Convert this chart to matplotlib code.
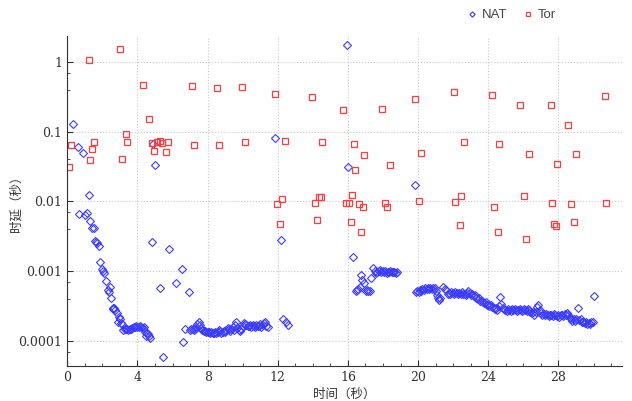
import matplotlib.pyplot as plt
from matplotlib.ticker import LogLocator, NullFormatter, MultipleLocator

# NAT delay samples (time s, delay s)
natTime = [0.31, 0.61, 0.69, 0.91, 1.03, 1.14, 1.22, 1.31, 1.43, 1.50, 1.60, 1.66, 1.71, 1.81, 1.88, 1.99,
           2.05, 2.11, 2.21, 2.32, 2.39, 2.43, 2.49, 2.58, 2.62, 2.68, 2.73, 2.83, 2.89, 2.95, 3.00, 3.08,
           3.13, 3.19, 3.28, 3.35, 3.42, 3.48, 3.55, 3.62, 3.70, 3.78, 3.85, 3.92, 4.00, 4.08, 4.15, 4.22,
           4.30, 4.38, 4.45, 4.50, 4.56, 4.62, 4.68, 4.73,
           4.83, 4.87, 5.02, 5.28, 5.44, 5.81, 6.21, 6.52, 6.61, 6.72, 6.92,
           7.00, 7.08, 7.14, 7.20, 7.28, 7.35, 7.42, 7.50, 7.56, 7.62, 7.70, 7.78, 7.85, 7.92, 8.00, 8.07,
           8.14, 8.20, 8.28, 8.35, 8.42, 8.50, 8.57, 8.64, 8.70, 8.78, 8.85, 8.92, 9.00, 9.07, 9.14, 9.20,
           9.28, 9.35, 9.42, 9.50, 9.57, 9.62, 9.70, 9.78, 9.85, 9.92, 10.00, 10.06, 10.13, 10.20, 10.28,
           10.35, 10.42, 10.50, 10.57, 10.64, 10.70, 10.78, 10.85, 10.92, 11.00, 11.07, 11.14, 11.20, 11.28,
           11.35, 11.42,
           11.83, 12.21, 12.31, 12.45, 12.56,
           15.94, 16.03, 16.30, 16.45, 16.52, 16.58, 16.68, 16.72, 16.79, 16.91, 17.04, 17.10, 17.15, 17.26,
           17.30, 17.44, 17.52, 17.59, 17.67, 17.75, 17.82, 17.90, 17.98, 18.05, 18.12, 18.20, 18.28, 18.35,
           18.42, 18.50, 18.57, 18.65, 18.72, 18.80,
           19.83, 19.87, 19.95, 20.03, 20.10, 20.18, 20.25, 20.32, 20.40, 20.48, 20.55, 20.63, 20.70, 20.78,
           20.86, 20.95, 21.02, 21.08, 21.14, 21.20, 21.26, 21.43, 21.52, 21.60, 21.68, 21.75, 21.82, 21.90,
           21.97, 22.05, 22.12, 22.20, 22.28, 22.35, 22.42, 22.50, 22.58, 22.65, 22.72, 22.80, 22.85, 22.95,
           23.02, 23.10, 23.18, 23.25, 23.32, 23.40, 23.47, 23.55, 23.62, 23.70, 23.78, 23.85, 23.92, 24.00,
           24.07, 24.15, 24.22, 24.30, 24.38, 24.45, 24.52, 24.60, 24.66, 24.75, 24.82, 24.90, 24.98, 25.05,
           25.12, 25.20, 25.28, 25.35, 25.42, 25.50, 25.58, 25.65, 25.72, 25.80, 25.88, 25.95, 26.02, 26.10,
           26.18, 26.25, 26.32, 26.40, 26.48, 26.55, 26.62, 26.70, 26.78, 26.86, 26.93, 27.00, 27.08, 27.15,
           27.22, 27.30, 27.38, 27.45, 27.52, 27.60, 27.68, 27.75, 27.82, 27.90, 27.98, 28.05, 28.12, 28.20,
           28.28, 28.35, 28.42, 28.50, 28.57, 28.65, 28.72, 28.80, 28.88, 28.95, 29.02, 29.12, 29.20, 29.28,
           29.35, 29.42, 29.50, 29.58, 29.65, 29.72, 29.80, 29.88, 29.97, 30.03]
natDelay = [0.127, 0.061, 0.0067, 0.049, 0.0063, 0.0069, 0.0122, 0.0052, 0.0041, 0.0041, 0.0027, 0.0026,
            0.0025, 0.0023, 0.00135, 0.00107, 0.0010, 0.00095, 0.00072, 0.00054, 0.0005, 0.00059, 0.00042,
            0.0003, 0.00029, 0.0003, 0.00028, 0.00025, 0.00019, 0.00022, 0.00021, 0.00018, 0.000178,
            0.000144, 0.00015, 0.000148, 0.00015, 0.000145, 0.000148, 0.00015, 0.000155, 0.00016, 0.000158,
            0.000162, 0.00016, 0.000158, 0.000162, 0.00016, 0.000155, 0.000158, 0.000135, 0.00012, 0.00013,
            0.000125, 0.000118, 0.00011,
            0.0026, 0.066, 0.033, 0.00058, 5.9e-5, 0.0021, 0.00068, 0.00107, 9.6e-5, 0.000151, 0.0005,
            1.45e-4, 1.5e-4, 1.47e-4, 1.42e-4, 1.5e-4, 1.6e-4, 1.75e-4, 1.86e-4, 1.7e-4, 1.55e-4, 1.45e-4,
            1.38e-4, 1.4e-4, 1.36e-4, 1.33e-4, 1.35e-4, 1.3e-4, 1.33e-4, 1.29e-4, 1.32e-4, 1.36e-4, 1.3e-4,
            1.34e-4, 1.45e-4, 1.38e-4, 1.32e-4, 1.35e-4, 1.4e-4, 1.36e-4, 1.45e-4, 1.55e-4, 1.48e-4, 1.4e-4,
            1.5e-4, 1.6e-4, 1.45e-4, 1.7e-4, 1.86e-4, 1.55e-4, 1.45e-4, 1.4e-4, 1.5e-4, 1.65e-4, 1.8e-4,
            1.78e-4, 1.7e-4, 1.65e-4, 1.62e-4, 1.68e-4, 1.6e-4, 1.7e-4, 1.65e-4, 1.6e-4, 1.72e-4, 1.65e-4,
            1.62e-4, 1.75e-4, 1.6e-4, 1.7e-4, 1.8e-4, 1.9e-4, 1.65e-4, 1.6e-4,
            0.081, 0.0028, 2.1e-4, 1.9e-4, 1.7e-4,
            1.72, 0.031, 0.0016, 5.2e-4, 5.4e-4, 5.6e-4, 5.9e-4, 8.7e-4, 7.4e-4, 6.7e-4, 5.2e-4, 5.4e-4,
            5.3e-4, 5.2e-4, 8.0e-4, 1.1e-3, 1.0e-3, 9.5e-4, 9.8e-4, 1.02e-3, 1.04e-3, 9.6e-4, 1.0e-3, 9.7e-4,
            1.0e-3, 9.5e-4, 9.8e-4, 9.6e-4, 1.0e-3, 9.7e-4, 9.9e-4, 9.6e-4, 9.4e-4, 9.6e-4,
            0.017, 5.0e-4, 5.2e-4, 5.1e-4, 5.4e-4, 5.3e-4, 5.6e-4, 5.4e-4, 5.7e-4, 5.5e-4, 5.7e-4, 5.6e-4,
            5.8e-4, 5.5e-4, 5.7e-4, 5.8e-4, 5.2e-4, 4.6e-4, 4.2e-4, 3.9e-4, 4.1e-4, 5.9e-4, 5.6e-4, 5.4e-4,
            4.8e-4, 4.9e-4, 4.7e-4, 5.0e-4, 4.9e-4, 4.8e-4, 5.0e-4, 4.9e-4, 4.7e-4, 4.9e-4, 4.8e-4, 5.0e-4,
            4.7e-4, 4.8e-4, 4.6e-4, 4.9e-4, 5.3e-4, 4.9e-4, 4.6e-4, 4.7e-4, 4.4e-4, 4.5e-4, 4.2e-4, 4.0e-4,
            4.1e-4, 3.8e-4, 3.7e-4, 3.6e-4, 3.5e-4, 3.6e-4, 3.3e-4, 3.4e-4, 3.2e-4, 3.3e-4, 3.1e-4, 3.0e-4,
            2.9e-4, 3.0e-4, 2.8e-4, 3.2e-4, 4.3e-4, 3.4e-4, 3.0e-4, 2.9e-4, 2.8e-4, 2.7e-4, 2.9e-4, 2.8e-4,
            2.7e-4, 2.9e-4, 2.8e-4, 2.9e-4, 2.8e-4, 2.7e-4, 2.8e-4, 2.9e-4, 2.8e-4, 2.7e-4, 2.9e-4, 2.8e-4,
            2.7e-4, 2.9e-4, 2.8e-4, 2.6e-4, 2.5e-4, 2.6e-4, 2.4e-4, 2.6e-4, 3.1e-4, 3.3e-4, 2.8e-4, 2.5e-4,
            2.4e-4, 2.45e-4, 2.35e-4, 2.45e-4, 2.4e-4, 2.3e-4, 2.4e-4, 2.35e-4, 2.3e-4, 2.45e-4, 2.35e-4,
            2.3e-4, 2.4e-4, 2.2e-4, 2.35e-4, 2.4e-4, 2.3e-4, 2.45e-4, 2.35e-4, 2.5e-4, 2.4e-4, 2.2e-4,
            2.1e-4, 1.95e-4, 2.05e-4, 1.95e-4, 2.1e-4, 3.0e-4, 2.0e-4, 2.1e-4, 1.9e-4, 1.85e-4, 1.8e-4,
            1.85e-4, 1.75e-4, 1.8e-4, 1.75e-4, 1.85e-4, 1.9e-4, 4.4e-4]

# Tor delay samples
torTime = [0.11, 0.21, 1.22, 1.31, 1.41, 1.52, 3.02, 3.12, 3.33, 3.42, 4.31, 4.64, 4.81, 4.92, 5.09, 5.30,
           5.41, 5.61, 5.72, 7.11, 7.22, 8.53, 8.63, 9.94, 10.13, 11.83, 11.93, 12.14, 12.22, 12.42, 13.94,
           14.11, 14.21, 14.34, 14.44, 14.51, 15.73, 15.88, 16.07, 16.15, 16.22, 16.34, 16.43, 16.64, 16.73,
           16.83, 16.92, 17.93, 18.14, 18.24, 18.41, 19.83, 20.04, 20.14, 22.03, 22.13, 22.36, 22.43, 22.62,
           24.22, 24.35, 24.54, 24.64, 25.83, 26.04, 26.15, 26.33, 27.56, 27.64, 27.73, 27.85, 27.94, 28.53,
           28.74, 28.86, 29.02, 30.64, 30.74]
torDelay = [0.031, 0.064, 1.06, 0.039, 0.057, 0.071, 1.5, 0.040, 0.093, 0.070, 0.46, 0.15, 0.068, 0.052,
            0.072, 0.074, 0.068, 0.051, 0.071, 0.45, 0.064, 0.42, 0.064, 0.44, 0.071, 0.35, 0.0091, 0.0048,
            0.0107, 0.074, 0.31, 0.0095, 0.0054, 0.0115, 0.0117, 0.071, 0.205, 0.0095, 0.0095, 0.0050,
            0.0124, 0.067, 0.028, 0.0091, 0.0037, 0.0082, 0.046, 0.21, 0.0095, 0.0082, 0.033, 0.29, 0.0102,
            0.049, 0.37, 0.0097, 0.0046, 0.012, 0.072, 0.33, 0.0083, 0.0036, 0.066, 0.24, 0.0118, 0.0029,
            0.047, 0.24, 0.0095, 0.0048, 0.0044, 0.034, 0.124, 0.0093, 0.0050, 0.047, 0.32, 0.0095]

yTicks = [0.0001, 0.001, 0.01, 0.1, 1]
yTickLabels = ['0.0001', '0.001', '0.01', '0.1', '1']
xTicks = [0, 4, 8, 12, 16, 20, 24, 28]

cjk = ['Noto Sans CJK SC', 'DejaVu Sans']

fig = plt.figure(figsize=(6.32, 4.01), dpi=100)
ax = fig.add_axes([0.1065, 0.0873, 0.877, 0.8227])

ax.plot(natTime, natDelay, linestyle='none', marker='D', markersize=3.6, markerfacecolor='none',
        markeredgecolor='#3a3aff', markeredgewidth=0.8, label='NAT')
ax.plot(torTime, torDelay, linestyle='none', marker='s', markersize=4.6, markerfacecolor='none',
        markeredgecolor='#ff3b3b', markeredgewidth=0.9, label='Tor')

ax.set_yscale('log')
ax.set_xlim(0, 31.6)
ax.set_ylim(4.4e-5, 2.33)

ax.set_yticks(yTicks)
ax.set_yticklabels(yTickLabels)
ax.yaxis.set_minor_locator(LogLocator(base=10, subs=(4, 7)))
ax.yaxis.set_minor_formatter(NullFormatter())
ax.set_xticks(xTicks)
ax.xaxis.set_minor_locator(MultipleLocator(1))

for lab in ax.get_xticklabels() + ax.get_yticklabels():
    lab.set_family('DejaVu Serif')
    lab.set_fontsize(9)
    lab.set_color('#333333')

ax.tick_params(which='both', direction='in', color='#333333')
ax.tick_params(which='major', length=4)
ax.tick_params(which='minor', length=2.5)

ax.grid(True, which='major', linestyle=':', color='#c8c8c8', linewidth=0.8)
ax.spines['top'].set_visible(False)
ax.spines['right'].set_visible(False)
ax.spines['left'].set_color('#333333')
ax.spines['bottom'].set_color('#333333')

ax.set_xlabel('时间（秒）', family=cjk, fontsize=9, color='#333333')
ax.set_ylabel('时延（秒）', family=cjk, fontsize=9, color='#333333')
ax.xaxis.set_label_coords(0.5, -0.067)
ax.yaxis.set_label_coords(-0.081, 0.5)

fig.legend(loc='center', bbox_to_anchor=(0.808, 0.962), ncol=2, frameon=False, handletextpad=0.3,
           columnspacing=1.0, handlelength=1.0, markerscale=0.75,
           prop={'family': 'Liberation Sans', 'size': 9.5}, labelcolor='#444444')

fig.savefig('out.png', dpi=100)
